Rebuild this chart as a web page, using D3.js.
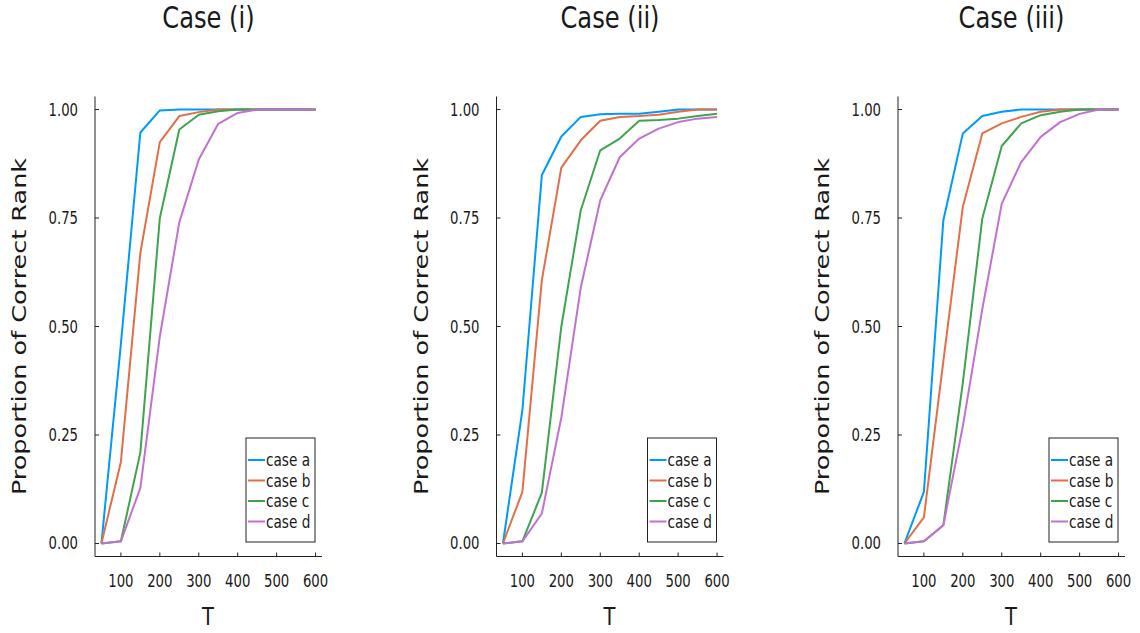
<!DOCTYPE html>
<html>
<head>
<meta charset="utf-8">
<script src="https://cdn.jsdelivr.net/npm/d3@7"></script>
<style>
  html, body { margin: 0; padding: 0; background: #fff; }
  svg text { font-family: "DejaVu Sans", sans-serif; fill: #1a1a1a; }
</style>
</head>
<body>
<svg id="chart" width="1140" height="633"></svg>
<script>
// Sample sizes on the horizontal axis
const sampleSizes = [50, 100, 150, 200, 250, 300, 350, 400, 450, 500, 550, 600];

const panelTitles = ["Case (i)", "Case (ii)", "Case (iii)"];
const seriesLabels = ["case a", "case b", "case c", "case d"];
const seriesColors = ["#009AFA", "#E36F47", "#3EA44E", "#C271D2"];

const xTickValues = [100, 200, 300, 400, 500, 600];
const yTickValues = [0, 0.25, 0.5, 0.75, 1];
const yTickLabels = ["0.00", "0.25", "0.50", "0.75", "1.00"];

// Proportion of correct rank, case (i)
const case1a = [0, 0.46, 0.947, 0.998, 1, 1, 1, 1, 1, 1, 1, 1];
const case1b = [0, 0.188, 0.67, 0.925, 0.985, 0.994, 1, 1, 1, 1, 1, 1];
const case1c = [0, 0.005, 0.21, 0.75, 0.954, 0.988, 0.996, 1, 1, 1, 1, 1];
const case1d = [0, 0.005, 0.128, 0.477, 0.74, 0.885, 0.967, 0.992, 1, 1, 1, 1];

// Proportion of correct rank, case (ii)
const case2a = [0, 0.307, 0.849, 0.938, 0.983, 0.989, 0.99, 0.99, 0.995, 1, 1, 1];
const case2b = [0, 0.119, 0.607, 0.866, 0.929, 0.974, 0.983, 0.985, 0.988, 0.995, 1, 1];
const case2c = [0, 0.005, 0.117, 0.5, 0.768, 0.906, 0.933, 0.974, 0.976, 0.979, 0.985, 0.99];
const case2d = [0, 0.005, 0.069, 0.29, 0.59, 0.791, 0.89, 0.933, 0.956, 0.971, 0.979, 0.983];

// Proportion of correct rank, case (iii)
const case3a = [0, 0.119, 0.745, 0.945, 0.985, 0.995, 1, 1, 1, 1, 1, 1];
const case3b = [0, 0.06, 0.42, 0.776, 0.945, 0.968, 0.983, 0.995, 1, 1, 1, 1];
const case3c = [0, 0.005, 0.042, 0.37, 0.749, 0.916, 0.968, 0.987, 0.995, 1, 1, 1];
const case3d = [0, 0.005, 0.042, 0.27, 0.54, 0.783, 0.879, 0.937, 0.971, 0.99, 1, 1];

const panels = [
  { title: panelTitles[0], series: [case1a, case1b, case1c, case1d] },
  { title: panelTitles[1], series: [case2a, case2b, case2c, case2d] },
  { title: panelTitles[2], series: [case3a, case3b, case3c, case3d] }
];

// Layout
const squeeze = 0.78;          // horizontal text compression
const plotLeft0 = 95;
const panelStep = 401.5;
const plotWidth = 227;
const plotTop = 96.5;
const plotBottom = 556.5;

const svg = d3.select("#chart");

function label(g, x, y, txt, size, anchor, rotate) {
  const t = g.append("text")
    .attr("transform", `translate(${x},${y}) scale(${squeeze},1)` + (rotate ? ` rotate(${rotate})` : ""))
    .attr("font-size", size)
    .attr("text-anchor", anchor)
    .text(txt);
  return t;
}

panels.forEach((panel, pi) => {
  const left = plotLeft0 + pi * panelStep;
  const g = svg.append("g");

  const x = d3.scaleLinear().domain([33.5, 616.5]).range([left, left + plotWidth]);
  const y = d3.scaleLinear().domain([-0.03, 1.03]).range([plotBottom, plotTop]);

  // Title
  label(g, left + plotWidth / 2, 28, panel.title, 31, "middle");

  // Axis lines
  g.append("line").attr("x1", left).attr("x2", left)
    .attr("y1", plotTop).attr("y2", plotBottom)
    .attr("stroke", "#222").attr("stroke-width", 1);
  g.append("line").attr("x1", left).attr("x2", left + plotWidth)
    .attr("y1", plotBottom).attr("y2", plotBottom)
    .attr("stroke", "#222").attr("stroke-width", 1);

  // Inward tick marks and labels
  xTickValues.forEach(v => {
    g.append("line").attr("x1", x(v)).attr("x2", x(v))
      .attr("y1", plotBottom).attr("y2", plotBottom - 4)
      .attr("stroke", "#222").attr("stroke-width", 1);
    label(g, x(v), 587, String(v), 17, "middle");
  });
  yTickValues.forEach((v, i) => {
    g.append("line").attr("x1", left).attr("x2", left + 4)
      .attr("y1", y(v)).attr("y2", y(v))
      .attr("stroke", "#222").attr("stroke-width", 1);
    label(g, left - 17, y(v) + 6, yTickLabels[i], 17, "end");
  });

  // Axis titles
  label(g, left + plotWidth / 2 - 0.5, 625, "T", 25, "middle");
  label(g, left - 69, (plotTop + plotBottom) / 2, "Proportion of Correct Rank", 25.5, "middle", -90);

  // Series lines
  const line = d3.line()
    .x((d, i) => x(sampleSizes[i]))
    .y(d => y(d));
  panel.series.forEach((vals, si) => {
    g.append("path")
      .datum(vals)
      .attr("fill", "none")
      .attr("stroke", seriesColors[si])
      .attr("stroke-width", 2)
      .attr("stroke-linejoin", "round")
      .attr("d", line);
  });

  // Legend
  const lx = left + 151, ly = 438, lw = 69, lh = 104;
  g.append("rect").attr("x", lx).attr("y", ly).attr("width", lw).attr("height", lh)
    .attr("fill", "#fff").attr("stroke", "#222").attr("stroke-width", 1);
  seriesLabels.forEach((name, si) => {
    const cy = ly + 22 + si * 20.5;
    g.append("line").attr("x1", lx + 2).attr("x2", lx + 19)
      .attr("y1", cy).attr("y2", cy)
      .attr("stroke", seriesColors[si]).attr("stroke-width", 2);
    label(g, lx + 20, cy + 6, name, 17.5, "start");
  });
});
</script>
</body>
</html>
